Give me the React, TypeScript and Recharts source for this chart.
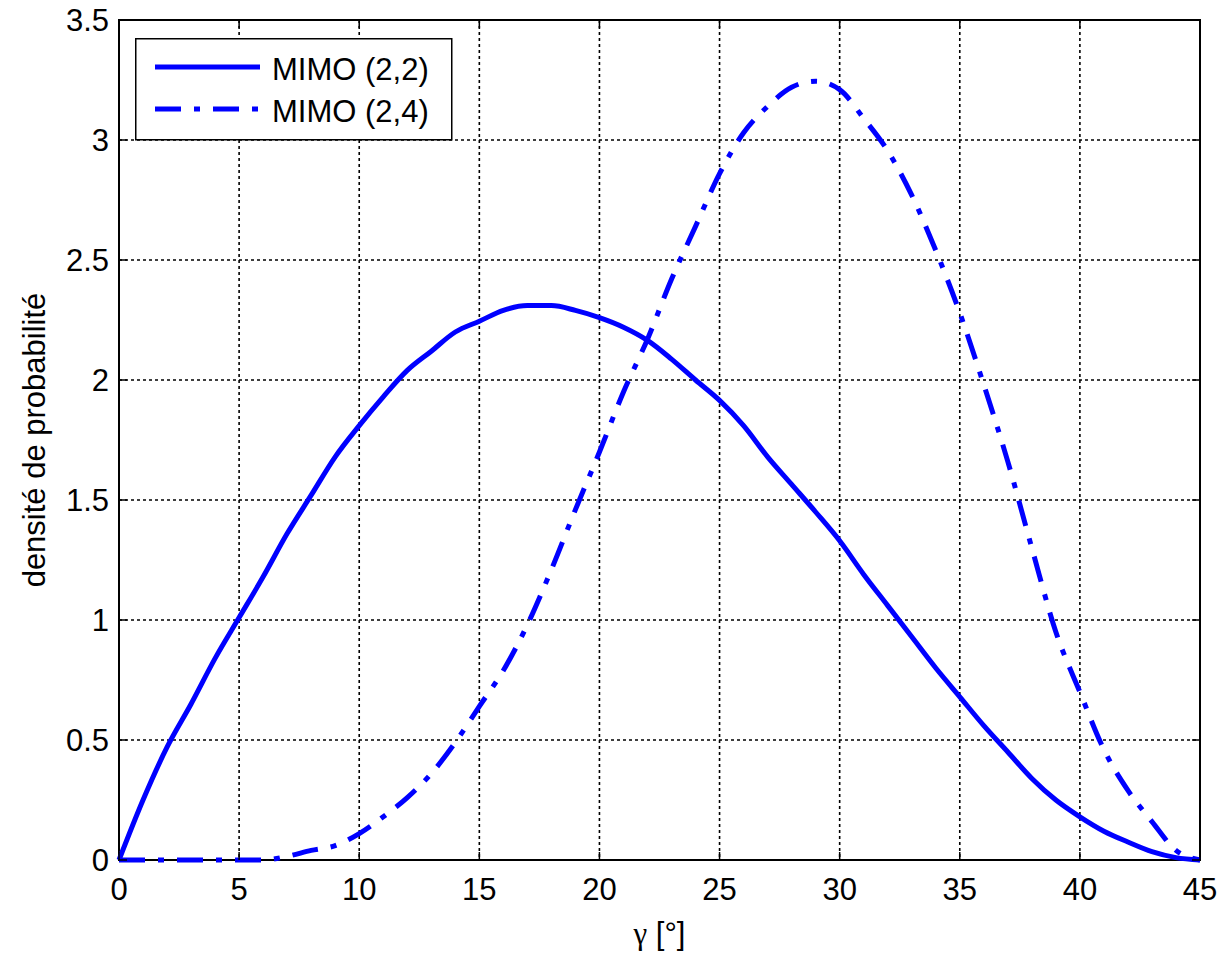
import {
  CartesianGrid,
  Label,
  Legend,
  Line,
  LineChart,
  ReferenceArea,
  XAxis,
  YAxis,
} from "recharts";

const gamma = [
  0, 1, 2, 3, 4, 5, 6, 7, 8, 9, 10, 11, 12, 13, 14, 15, 16, 17, 18, 19, 20, 21,
  22, 23, 24, 25, 26, 27, 28, 29, 30, 31, 32, 33, 34, 35, 36, 37, 38, 39, 40,
  41, 42, 43, 44, 45,
];
const mimo22 = [
  0, 0.25, 0.47, 0.65, 0.84, 1.01, 1.18, 1.36, 1.52, 1.68, 1.81, 1.93, 2.04,
  2.12, 2.2, 2.245, 2.29, 2.31, 2.31, 2.29, 2.26, 2.22, 2.165, 2.087, 2.0,
  1.915, 1.81, 1.68, 1.565, 1.45, 1.33, 1.19, 1.06, 0.93, 0.8, 0.68, 0.56,
  0.45, 0.34, 0.25, 0.18, 0.12, 0.075, 0.035, 0.01, 0,
];
const mimo24 = [
  0, 0, 0, 0, 0, 0, 0, 0.015, 0.04, 0.06, 0.11, 0.18, 0.26, 0.36, 0.49, 0.64,
  0.79, 0.98, 1.21, 1.46, 1.7, 1.95, 2.17, 2.42, 2.64, 2.86, 3.03, 3.14, 3.22,
  3.245, 3.21, 3.09, 2.955, 2.77, 2.54, 2.28, 1.98, 1.66, 1.3, 0.95, 0.7, 0.46,
  0.29, 0.16, 0.04, 0,
];
const xTicks = [0, 5, 10, 15, 20, 25, 30, 35, 40, 45];
const yTicks = [0, 0.5, 1, 1.5, 2, 2.5, 3, 3.5];
const seriesNames = ["MIMO (2,2)", "MIMO (2,4)"];

const data = gamma.map((g, i) => ({ g, a: mimo22[i], b: mimo24[i] }));

const W = 1228;
const H = 957;
const TOP = 20;
const RIGHT = 28;
const YW = 119;
const XH = 97;
const PLOT_LEFT = YW;
const PLOT_RIGHT = W - RIGHT;
const PLOT_BOTTOM = H - XH;
const TICK_LEN = 8;
const FONT = "'Liberation Sans', Arial, Helvetica, sans-serif";
const FS = 31;
const BLUE = "#0000ff";
const LW = 5;
const DASHDOT = "26 13 6 13";

const XTick = ({ x, payload }: any) => (
  <g>
    <line x1={x} x2={x} y1={PLOT_BOTTOM} y2={PLOT_BOTTOM - TICK_LEN} stroke="#000" strokeWidth={1.5} />
    <line x1={x} x2={x} y1={TOP} y2={TOP + TICK_LEN} stroke="#000" strokeWidth={1.5} />
    <text x={x} y={PLOT_BOTTOM + 18} dy="0.71em" textAnchor="middle" fill="#000" fontSize={FS} fontFamily={FONT}>
      {payload.value}
    </text>
  </g>
);

const YTick = ({ y, payload }: any) => (
  <g>
    <line x1={PLOT_LEFT} x2={PLOT_LEFT + TICK_LEN} y1={y} y2={y} stroke="#000" strokeWidth={1.5} />
    <line x1={PLOT_RIGHT} x2={PLOT_RIGHT - TICK_LEN} y1={y} y2={y} stroke="#000" strokeWidth={1.5} />
    <text x={PLOT_LEFT - 10} y={y} dy="0.36em" textAnchor="end" fill="#000" fontSize={FS} fontFamily={FONT}>
      {payload.value}
    </text>
  </g>
);

const LegendBox = () => (
  <svg width={318} height={103} style={{ display: "block" }}>
    <rect x={0.75} y={0.75} width={316} height={101} fill="#fff" stroke="#000" strokeWidth={1.5} />
    <line x1={20} x2={125} y1={29} y2={29} stroke={BLUE} strokeWidth={LW} />
    <text x={137} y={42} fontSize={FS} fontFamily={FONT} fill="#000">
      {seriesNames[0]}
    </text>
    <line x1={20} x2={125} y1={71} y2={71} stroke={BLUE} strokeWidth={LW} strokeDasharray={DASHDOT} />
    <text x={137} y={84} fontSize={FS} fontFamily={FONT} fill="#000">
      {seriesNames[1]}
    </text>
  </svg>
);

export default function App() {
  return (
    <div style={{ position: "absolute", left: 0, top: 0, background: "#fff" }}>
      <LineChart
        width={W}
        height={H}
        data={data}
        margin={{ top: TOP, right: RIGHT, bottom: 0, left: 0 }}
      >
        <CartesianGrid stroke="#000" strokeDasharray="3 3" strokeWidth={1.6} />
        <XAxis
          dataKey="g"
          type="number"
          domain={[0, 45]}
          ticks={xTicks}
          height={XH}
          axisLine={false}
          tickLine={false}
          tickSize={0}
          tick={<XTick />}
        >
          <Label
            content={({ viewBox }: any) => (
              <text
                x={viewBox.x + viewBox.width / 2}
                y={viewBox.y + 84}
                textAnchor="middle"
                fontSize={FS}
                fontFamily={FONT}
                fill="#000"
              >
                <tspan fontFamily="'Liberation Serif', 'DejaVu Serif', serif">γ</tspan> [°]
              </text>
            )}
          />
        </XAxis>
        <YAxis
          type="number"
          domain={[0, 3.5]}
          ticks={yTicks}
          width={YW}
          axisLine={false}
          tickLine={false}
          tickSize={0}
          tick={<YTick />}
        >
          <Label
            content={({ viewBox }: any) => {
              const cx = viewBox.x + 34;
              const cy = viewBox.y + viewBox.height / 2;
              return (
                <text
                  x={cx}
                  y={cy}
                  transform={`rotate(-90 ${cx} ${cy})`}
                  textAnchor="middle"
                  dominantBaseline="central"
                  fontSize={FS}
                  fontFamily={FONT}
                  fill="#000"
                >
                  densité de probabilité
                </text>
              );
            }}
          />
        </YAxis>
        <ReferenceArea
          x1={0}
          x2={45}
          y1={0}
          y2={3.5}
          fill="none"
          stroke="#000"
          strokeWidth={2}
          ifOverflow="visible"
        />
        <Line
          type="monotone"
          dataKey="a"
          name={seriesNames[0]}
          stroke={BLUE}
          strokeWidth={LW}
          dot={false}
          isAnimationActive={false}
        />
        <Line
          type="monotone"
          dataKey="b"
          name={seriesNames[1]}
          stroke={BLUE}
          strokeWidth={LW}
          strokeDasharray={DASHDOT}
          dot={false}
          isAnimationActive={false}
        />
        <Legend
          layout="horizontal"
          align="center"
          verticalAlign="middle"
          content={<LegendBox />}
          wrapperStyle={{ position: "absolute", top: 38, left: 135, width: 318, height: 103 }}
        />
      </LineChart>
    </div>
  );
}
